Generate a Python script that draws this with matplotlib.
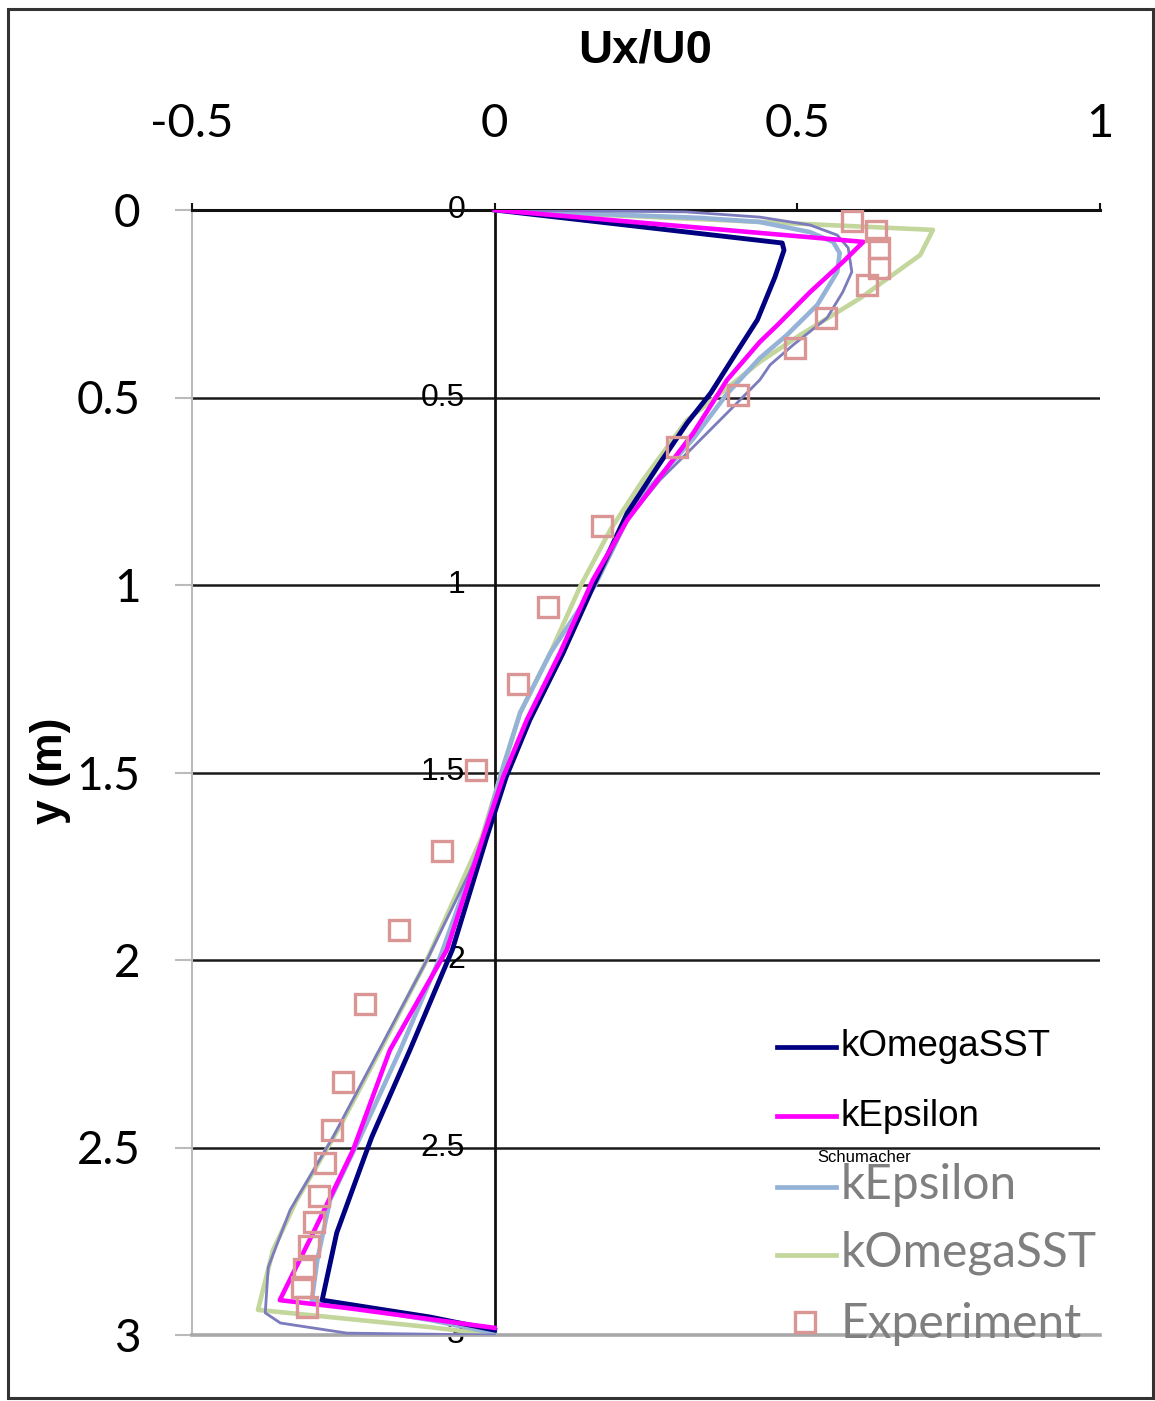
import matplotlib
matplotlib.use("Agg")
import matplotlib.pyplot as plt
from matplotlib.lines import Line2D
from matplotlib.patches import Rectangle

# velocity profiles, Ux/U0 against depth y (m)
kw_x = [0.0, 0.475, 0.478, 0.463, 0.434, 0.399, 0.357, 0.318, 0.273, 0.219, 0.162,
        0.113, 0.058, 0.019, -0.013, -0.070, -0.140, -0.203, -0.211, -0.261, -0.285,
        -0.107, 0.0]
kw_y = [0.0, 0.088, 0.107, 0.179, 0.293, 0.381, 0.488, 0.568, 0.675, 0.808, 1.005,
        1.181, 1.360, 1.512, 1.672, 1.973, 2.240, 2.472, 2.507, 2.728, 2.907,
        2.952, 2.987]

ke_x = [0.0, 0.609, 0.575, 0.521, 0.467, 0.438, 0.384, 0.328, 0.273, 0.219, 0.162,
        0.108, 0.053, 0.014, -0.019, -0.079, -0.173, -0.226, -0.234, -0.300, -0.355,
        -0.244, 0.0]
ke_y = [0.0, 0.085, 0.139, 0.219, 0.307, 0.352, 0.453, 0.595, 0.712, 0.827, 0.987,
        1.181, 1.360, 1.512, 1.672, 1.973, 2.240, 2.472, 2.507, 2.728, 2.907,
        2.928, 2.981]

# Schumacher results
sch_ke_x = [0.0, 0.339, 0.438, 0.521, 0.559, 0.570, 0.566, 0.533, 0.483, 0.438, 0.384,
            0.328, 0.252, 0.229, 0.166, 0.092, 0.042, 0.014, -0.019, -0.090, -0.156,
            -0.222, -0.272, -0.293, -0.302, -0.107, 0.0]
sch_ke_y = [0.0, 0.021, 0.032, 0.059, 0.085, 0.115, 0.165, 0.253, 0.333, 0.395, 0.490,
            0.610, 0.747, 0.792, 1.000, 1.181, 1.341, 1.485, 1.672, 1.992, 2.240,
            2.472, 2.640, 2.800, 2.907, 2.960, 2.995]

sch_kw_x = [0.0, 0.374, 0.724, 0.703, 0.604, 0.505, 0.438, 0.318, 0.245, 0.191, 0.141,
            0.092, 0.042, 0.009, -0.021, -0.112, -0.189, -0.256, -0.327, -0.366, -0.391,
            -0.107, 0.0]
sch_kw_y = [0.0, 0.027, 0.053, 0.120, 0.235, 0.333, 0.405, 0.560, 0.720, 0.853, 1.005,
            1.181, 1.341, 1.512, 1.672, 2.000, 2.240, 2.445, 2.640, 2.773, 2.933,
            2.979, 3.0]

sch_other_x = [0.0, 0.316, 0.438, 0.521, 0.566, 0.584, 0.590, 0.575, 0.549, 0.493, 0.455,
               0.438, 0.394, 0.328, 0.273, 0.219, 0.166, 0.113, 0.058, 0.019, -0.013,
               -0.112, -0.267, -0.338, -0.374, -0.379, -0.354, -0.244, 0.0]
sch_other_y = [0.0, 0.005, 0.019, 0.040, 0.067, 0.101, 0.165, 0.219, 0.288, 0.360, 0.413,
               0.453, 0.525, 0.632, 0.720, 0.827, 1.000, 1.187, 1.360, 1.512, 1.672,
               2.000, 2.472, 2.667, 2.819, 2.941, 2.968, 2.995, 3.0]

exp_x = [0.590, 0.630, 0.635, 0.635, 0.615, 0.547, 0.496, 0.402, 0.301, 0.177, 0.088,
         0.038, -0.031, -0.087, -0.158, -0.214, -0.251, -0.269, -0.280, -0.290, -0.298,
         -0.306, -0.315, -0.318, -0.310]
exp_y = [0.029, 0.056, 0.101, 0.155, 0.200, 0.288, 0.368, 0.493, 0.632, 0.843, 1.059,
         1.264, 1.493, 1.709, 1.920, 2.117, 2.325, 2.453, 2.541, 2.629, 2.699,
         2.763, 2.824, 2.872, 2.925]

x_ticks = [-0.5, 0, 0.5, 1]
x_tick_labels = ['-0.5', '0', '0.5', '1']
y_ticks = [0, 0.5, 1, 1.5, 2, 2.5, 3]
y_tick_labels = ['0', '0.5', '1', '1.5', '2', '2.5', '3']

C_NAVY = '#000080'
C_MAGENTA = '#ff00ff'
C_LBLUE = '#95b3d7'
C_GREEN = '#c3d69b'
C_PURPLE = '#7b7bbd'
C_EXP = '#d99694'

W, H = 1155, 1401
fig = plt.figure(figsize=(W / 100, H / 100), dpi=100)
ax = fig.add_axes([192 / W, 1 - 1335 / H, 908 / W, 1125 / H])

ax.set_xlim(-0.5, 1)
ax.set_ylim(3, 0)

# light Schumacher curves underneath
ax.plot(sch_kw_x, sch_kw_y, color=C_GREEN, lw=3.3, zorder=3, solid_joinstyle='round')
ax.plot(sch_ke_x, sch_ke_y, color=C_LBLUE, lw=3.3, zorder=3, solid_joinstyle='round')
ax.plot(sch_other_x, sch_other_y, color=C_PURPLE, lw=2, zorder=3, solid_joinstyle='round')
ax.plot(kw_x, kw_y, color=C_NAVY, lw=3.5, zorder=4)
ax.plot(ke_x, ke_y, color=C_MAGENTA, lw=3.3, zorder=5)
ax.plot(exp_x, exp_y, ls='none', marker='s', ms=15, mfc='none', mec=C_EXP, mew=2.4, zorder=6)

ax.axvline(0, color='#111111', lw=2, zorder=2)

# axes styling
ax.xaxis.tick_top()
ax.set_xticks(x_ticks)
ax.set_xticklabels(x_tick_labels, family='Lato', fontsize=34)
ax.set_yticks(y_ticks)
ax.set_yticklabels(y_tick_labels, family='Lato', fontsize=33)
ax.tick_params(axis='x', direction='out', length=5, width=1.5, color='#111111', pad=42)
ax.tick_params(axis='y', direction='out', length=12, width=1.5, color='#bbbbbb', pad=25)
ax.grid(axis='y', color='#1a1a1a', lw=1.8)
ax.set_axisbelow(True)
ax.spines['right'].set_visible(False)
ax.spines['left'].set_color('#bbbbbb')
ax.spines['left'].set_linewidth(1.5)
ax.spines['top'].set_color('#111111')
ax.spines['top'].set_linewidth(2.2)
ax.spines['bottom'].set_color('#a8a8a8')
ax.spines['bottom'].set_linewidth(2.6)

ax.set_xlabel('Ux/U0', family='Liberation Sans', fontweight='bold', fontsize=34)
ax.xaxis.set_label_position('top')
ax.xaxis.set_label_coords(0.499, 1.142)
ax.xaxis.label.set_va('center')
ax.set_ylabel('y (m)', family='Liberation Sans', fontweight='bold', fontsize=32)
ax.yaxis.set_label_coords(-0.156, 0.502)
ax.yaxis.label.set_va('center')

# second chart's depth labels next to the zero line
for yv, lab in zip(y_ticks, y_tick_labels):
    ax.text(-0.049, yv, lab, ha='right', va='center', family='Liberation Sans',
            fontsize=23, color='#000000', zorder=2)

# legends
def fx(px):
    return px / W

def fy(py):
    return 1 - py / H

entries_a = [('kOmegaSST', C_NAVY, 1047), ('kEpsilon', C_MAGENTA, 1116)]
for lab, col, py in entries_a:
    fig.add_artist(Line2D([fx(777), fx(836)], [fy(py), fy(py)], color=col, lw=3.4))
    fig.text(fx(841), fy(py), lab, ha='left', va='center', family='Liberation Sans',
             fontsize=26.5, color='#000000')

fig.text(fx(864), fy(1157), 'Schumacher', ha='center', va='center',
         family='Liberation Sans', fontsize=12, color='#000000')

entries_b = [('kEpsilon', C_LBLUE, 1187), ('kOmegaSST', C_GREEN, 1255)]
for lab, col, py in entries_b:
    fig.add_artist(Line2D([fx(777), fx(836)], [fy(py), fy(py)], color=col, lw=3.4))
    fig.text(fx(841), fy(py - 2), lab, ha='left', va='center', family='Lato',
             fontsize=34.5, color='#7f7f7f')
fig.add_artist(Line2D([fx(805)], [fy(1322)], ls='none', marker='s', ms=15, mfc='none',
                      mec=C_EXP, mew=2.4))
fig.text(fx(841), fy(1324), 'Experiment', ha='left', va='center', family='Lato',
         fontsize=34.5, color='#7f7f7f')

# outer frame
fig.add_artist(Rectangle((fx(8), fy(1398)), fx(1145), 1389 / H, fill=False,
                         edgecolor='#333333', lw=2.2, transform=fig.transFigure))

fig.savefig('out.png', dpi=100)
